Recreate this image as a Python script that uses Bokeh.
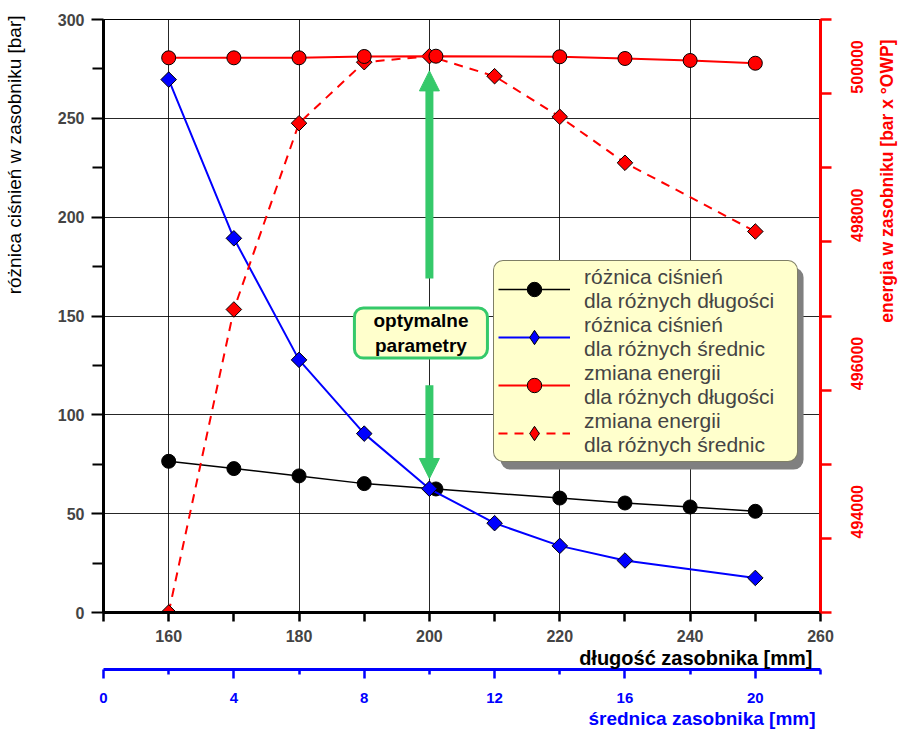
import math
from bokeh.plotting import figure
from bokeh.models import (Range1d, LinearAxis, FixedTicker, Legend, LegendItem,
                          Label, Arrow, NormalHead, BoxAnnotation, BasicTickFormatter,
                          Title)
from bokeh.embed import file_html
from bokeh.resources import INLINE

# ---------------- data ----------------
length_mm = [160, 170, 180, 190, 201, 220, 230, 240, 250]
dp_length_bar = [76.5, 72.8, 69.1, 65.2, 62.5, 57.9, 55.4, 53.4, 51.2]
energy_length = [500483, 500483, 500483, 500501, 500505, 500497, 500474, 500447, 500410]

diam_mm = [2, 4, 6, 8, 10, 12, 14, 16, 20]
dp_diam_bar = [269.6, 189.3, 127.8, 90.5, 62.6, 45.2, 33.7, 26.3, 17.5]
energy_diam = [493000, 497088, 499601, 500424, 500505, 500235, 499687, 499067, 498140]

length_ticks = [160, 180, 200, 220, 240, 260]
length_minor = [150, 170, 190, 210, 230, 250]
diam_ticks = [0, 4, 8, 12, 16, 20]
diam_minor = [2, 6, 10, 14, 18, 22]
dp_ticks = [0, 50, 100, 150, 200, 250, 300]
dp_minor = [25, 75, 125, 175, 225, 275]
energy_ticks = [494000, 496000, 498000, 500000]
energy_minor = [493000, 495000, 497000, 499000, 501000]

legend_labels = ["różnica ciśnień\ndla różnych długości",
                 "różnica ciśnień\ndla różnych średnic",
                 "zmiana energii\ndla różnych długości",
                 "zmiana energii\ndla różnych średnic"]

title_length = "długość zasobnika [mm]"
title_diam = "średnica zasobnika [mm]"
title_dp = "różnica ciśnień w zasobniku [bar]"
title_energy = "energia w zasobniku [bar x °OWP]"

note_text = "optymalne\nparametry"
note_pos = (198.7, 141.4)
arrow_up = (200, 169, 200, 274)
arrow_down = (200, 115, 200, 67.8)
shadow_box = (210.9, 257.4, 72.3, 174.5)  # left, right, bottom, top (data)

FONT = "Liberation Sans"
GREEN = "#35C96A"
RED = "#FF0000"
BLUE = "#0000FF"

p = figure(width=899, height=731, output_backend="svg", toolbar_location=None,
           x_range=Range1d(150, 260), y_range=Range1d(0, 300),
           min_border_left=103, min_border_right=79, min_border_top=19,
           min_border_bottom=119)
p.extra_x_ranges = {"diam": Range1d(0, 22)}
p.extra_y_ranges = {"energy": Range1d(493000, 501000)}
p.outline_line_color = "black"
p.outline_line_width = 1
p.background_fill_color = "white"

def has(model, prop):
    return prop in type(model).properties()

# grids
p.xgrid.ticker = FixedTicker(ticks=length_ticks)
p.ygrid.ticker = FixedTicker(ticks=dp_ticks)
for g in (p.xgrid, p.ygrid):
    g.grid_line_color = "black"
    g.grid_line_width = 1
    g.grid_line_alpha = 0.85

TICK_FS = "16px"

# left axis
ya = p.yaxis[0]
ya.ticker = FixedTicker(ticks=dp_ticks, minor_ticks=dp_minor)
ya.major_label_text_font = FONT
ya.major_label_text_font_style = "bold"
ya.major_label_text_font_size = TICK_FS
ya.major_label_standoff = 7
ya.axis_line_width = 3
ya.major_tick_line_width = 2
ya.minor_tick_line_width = 2
ya.major_tick_out = 12
ya.major_tick_in = 0
ya.minor_tick_out = 11
ya.minor_tick_in = 0
p.add_layout(Label(x=-19, y=597, x_units="screen", y_units="screen",
                   text=title_dp, angle=math.pi / 2, text_align="right",
                   text_baseline="middle", text_font=FONT,
                   text_font_style="normal", text_font_size="19px",
                   text_color="black"), "left")

# bottom axis (length)
xa = p.xaxis[0]
xa.ticker = FixedTicker(ticks=length_ticks, minor_ticks=length_minor)
xa.major_label_text_font = FONT
xa.major_label_text_font_style = "bold"
xa.major_label_text_font_size = TICK_FS
xa.major_label_standoff = 8
xa.axis_line_width = 3
xa.major_tick_line_width = 2.5
xa.minor_tick_line_width = 2.5
xa.major_tick_out = 9
xa.major_tick_in = 0
xa.minor_tick_out = 9
xa.minor_tick_in = 0
p.add_layout(Title(text=title_length, align="right", offset=8, standoff=1,
                   text_font=FONT, text_font_style="bold",
                   text_font_size="20px", text_color="black"), "below")

# second bottom axis (diameter)
da = LinearAxis(x_range_name="diam",
                ticker=FixedTicker(ticks=diam_ticks, minor_ticks=diam_minor))
da.major_label_text_font = FONT
da.major_label_text_font_style = "bold"
da.major_label_text_font_size = "15px"
da.major_label_text_color = BLUE
da.major_label_standoff = 14
da.axis_line_color = BLUE
da.axis_line_width = 3
da.major_tick_line_color = BLUE
da.minor_tick_line_color = BLUE
da.major_tick_line_width = 2.5
da.minor_tick_line_width = 2.5
da.major_tick_out = 9
da.major_tick_in = 0
da.minor_tick_out = 5
da.minor_tick_in = 0
p.add_layout(da, "below")
p.add_layout(Title(text=title_diam, align="right", offset=5, standoff=0,
                   text_font=FONT, text_font_style="bold",
                   text_font_size="19px", text_color=BLUE), "below")

# right axis (energy)
ra = LinearAxis(y_range_name="energy",
                ticker=FixedTicker(ticks=energy_ticks, minor_ticks=energy_minor),
                formatter=BasicTickFormatter(use_scientific=False))
ra.major_label_text_font = FONT
ra.major_label_text_font_style = "bold"
ra.major_label_text_font_size = TICK_FS
ra.major_label_text_color = RED
ra.major_label_orientation = math.pi / 2
ra.major_label_standoff = 25
ra.axis_line_color = RED
ra.axis_line_width = 3
ra.major_tick_line_color = RED
ra.minor_tick_line_color = RED
ra.major_tick_line_width = 2.5
ra.minor_tick_line_width = 2.5
ra.major_tick_out = 11
ra.major_tick_in = 0
ra.minor_tick_out = 11
ra.minor_tick_in = 0
p.add_layout(ra, "right")
p.add_layout(Label(x=15, y=573, x_units="screen", y_units="screen",
                   text=title_energy, angle=math.pi / 2, text_align="right",
                   text_baseline="middle", text_font=FONT,
                   text_font_style="bold", text_font_size="17.5px",
                   text_color=RED), "right")

# ---------------- series ----------------
l1 = p.line(length_mm, dp_length_bar, line_color="black", line_width=1.5)
s1 = p.scatter(length_mm, dp_length_bar, marker="circle", size=14,
               fill_color="black", line_color="black")

l2 = p.line(diam_mm, dp_diam_bar, x_range_name="diam", line_color=BLUE, line_width=2)
s2 = p.scatter(diam_mm, dp_diam_bar, x_range_name="diam", marker="square",
               angle=math.pi / 4, size=11, fill_color=BLUE, line_color="black",
               line_width=1)

l4 = p.line(diam_mm, energy_diam, x_range_name="diam", y_range_name="energy",
            line_color=RED, line_width=2, line_dash="9 7")
s4 = p.scatter(diam_mm, energy_diam, x_range_name="diam", y_range_name="energy",
               marker="square", angle=math.pi / 4, size=11, fill_color=RED,
               line_color="black", line_width=1)

l3 = p.line(length_mm, energy_length, y_range_name="energy", line_color=RED,
            line_width=2)
s3 = p.scatter(length_mm, energy_length, y_range_name="energy", marker="circle",
               size=14, fill_color=RED, line_color="black", line_width=1)

# legend-only diamond glyphs (legend glyphs are never rotated); NaN -> not drawn
k2 = p.scatter(x=[float("nan")], y=[float("nan")], marker="diamond",
               fill_color=BLUE, line_color="black", line_width=1)
k4 = p.scatter(x=[float("nan")], y=[float("nan")], marker="diamond",
               fill_color=RED, line_color="black", line_width=1)

# ---------------- annotations ----------------
for (x0, y0, x1, y1) in (arrow_up, arrow_down):
    p.add_layout(Arrow(end=NormalHead(size=20, fill_color=GREEN, line_color=GREEN),
                       x_start=x0, y_start=y0, x_end=x1, y_end=y1,
                       line_color=GREEN, line_width=8))

note = Label(x=note_pos[0], y=note_pos[1], text=note_text,
             text_align="center", text_baseline="middle",
             text_font=FONT, text_font_style="bold", text_font_size="19px",
             text_color="black",
             background_fill_color="#FFFFCC", background_fill_alpha=1,
             border_line_color=GREEN, border_line_width=3)
if has(note, "border_radius"):
    note.border_radius = 9
if has(note, "padding"):
    note.padding = (19, 2)
p.add_layout(note)

shadow = BoxAnnotation(left=shadow_box[0], right=shadow_box[1],
                       bottom=shadow_box[2], top=shadow_box[3],
                       fill_color="#808080", fill_alpha=1, line_color=None)
if has(shadow, "border_radius"):
    shadow.border_radius = 10
p.add_layout(shadow)

legend = Legend(items=[LegendItem(label=legend_labels[0], renderers=[l1, s1]),
                       LegendItem(label=legend_labels[1], renderers=[l2, k2]),
                       LegendItem(label=legend_labels[2], renderers=[l3, s3]),
                       LegendItem(label=legend_labels[3], renderers=[l4, k4])],
                location=(390, 150))
legend.background_fill_color = "#FFFFCC"
legend.background_fill_alpha = 1
legend.border_line_color = "black"
legend.border_line_width = 1.5
legend.label_text_font = FONT
legend.label_text_font_size = "21px"
legend.glyph_width = 72
legend.glyph_height = 36
legend.label_standoff = 14
legend.padding = 4
legend.spacing = 0
legend.margin = 0
legend.label_height = 45
legend.label_width = 209
if has(legend, "border_radius"):
    legend.border_radius = 10
p.add_layout(legend, "center")

open("out.html", "w").write(file_html(p, INLINE))
